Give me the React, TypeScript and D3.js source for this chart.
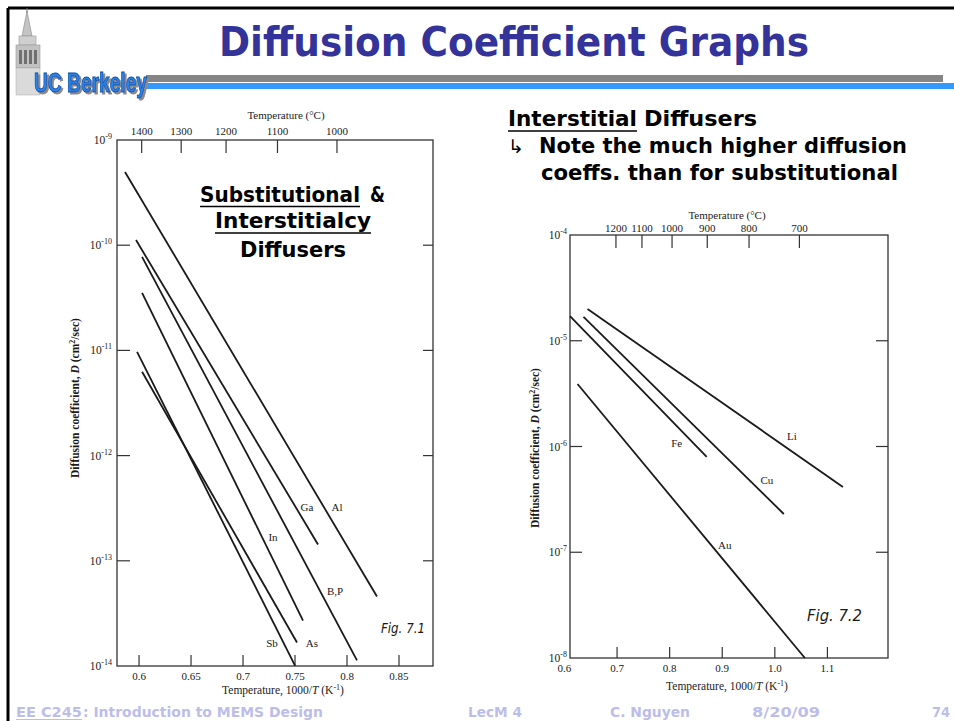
import React from "react";
import * as d3 from "d3";

// ---------- Left chart (Fig 7.1): substitutional & interstitialcy diffusers ----------
const leftSeries = ["Al", "Ga", "B,P", "In", "As", "Sb"];
const leftInvTStart = [0.5865, 0.5971, 0.6029, 0.6029, 0.6029, 0.5981];
const leftInvTEnd = [0.8288, 0.7721, 0.8096, 0.7577, 0.7519, 0.75];
const leftDStart = [4.97e-10, 1.12e-10, 7.74e-11, 3.52e-11, 6.27e-12, 9.7e-12];
const leftDEnd = [4.57e-14, 1.43e-13, 1.13e-14, 2.7e-14, 1.67e-14, 1.01e-14];
const leftLabelInvT = [0.7904, 0.7615, 0.7885, 0.7288, 0.7663, 0.7279];
const leftLabelD = [3.27e-13, 3.27e-13, 5.21e-14, 1.7e-13, 1.67e-14, 1.67e-14];
const leftXTicks = [0.6, 0.65, 0.7, 0.75, 0.8, 0.85];
const leftXTickLabels = ["0.6", "0.65", "0.7", "0.75", "0.8", "0.85"];
const leftTempTicks = [1400, 1300, 1200, 1100, 1000];
const leftDecades = [-9, -10, -11, -12, -13, -14];

// ---------- Right chart (Fig 7.2): interstitial diffusers ----------
const rightSeries = ["Li", "Cu", "Fe", "Au"];
const rightInvTStart = [0.6438, 0.6362, 0.6105, 0.6248];
const rightInvTEnd = [1.1295, 1.0171, 0.8705, 1.0571];
const rightDStart = [2.0e-5, 1.68e-5, 1.71e-5, 3.9e-6];
const rightDEnd = [4.14e-7, 2.3e-7, 7.96e-7, 1.0e-8];
const rightLabelInvT = [1.0324, 0.9848, 0.8133, 0.9048];
const rightLabelD = [1.26e-6, 4.82e-7, 1.08e-6, 1.17e-7];
const rightXTicks = [0.6, 0.7, 0.8, 0.9, 1.0, 1.1];
const rightXTickLabels = ["0.6", "0.7", "0.8", "0.9", "1.0", "1.1"];
const rightTempTicks = [1200, 1100, 1000, 900, 800, 700];
const rightDecades = [-4, -5, -6, -7, -8];

const SERIF = "'Liberation Serif', 'Times New Roman', serif";
const SANS = "'DejaVu Sans', 'Open Sans', sans-serif";
const INK = "#1a1a1a";

function Decade({ x, y, d, anchor }: { x: number; y: number; d: number; anchor: string }) {
  return (
    <text x={x} y={y + 4} textAnchor={anchor} fontFamily={SERIF} fontSize={11.5} fill={INK}>
      10
      <tspan dy={-5} fontSize={8}>{`-${-d}`}</tspan>
    </text>
  );
}

function LeftChart() {
  const x = d3.scaleLinear().domain([0.5788, 0.8827]).range([117, 433]);
  const xTop = d3.scaleLinear().domain([0.5788 - 0.0048, 0.8827 - 0.0048]).range([117, 433]);
  const y = d3.scaleLog().domain([1e-14, 1e-9]).range([666, 140]);
  const line = d3.line<[number, number]>().x((p) => x(p[0])).y((p) => y(p[1]));
  const [x0, x1] = x.range();
  const [yb, yt] = y.range();
  return (
    <g>
      <rect x={x0} y={yt} width={x1 - x0} height={yb - yt} fill="none" stroke="#333" strokeWidth={1.3} />
      {leftDecades.map((d) => {
        const yy = y(Math.pow(10, d));
        const inner = d !== -9 && d !== -14;
        return (
          <g key={d}>
            {inner && <line x1={x0} x2={x0 + 13} y1={yy} y2={yy} stroke="#333" strokeWidth={1.2} />}
            {inner && <line x1={x1} x2={x1 - 10} y1={yy} y2={yy} stroke="#333" strokeWidth={1.2} />}
            <Decade x={x0 - 5} y={yy} d={d} anchor="end" />
          </g>
        );
      })}
      {leftXTicks.map((v, i) => (
        <g key={v}>
          <line x1={x(v)} x2={x(v)} y1={yb} y2={yb - 11} stroke="#333" strokeWidth={1.2} />
          <text x={x(v)} y={yb + 14} textAnchor="middle" fontFamily={SERIF} fontSize={11} fill={INK}>
            {leftXTickLabels[i]}
          </text>
        </g>
      ))}
      {leftTempTicks.map((t) => {
        const xx = xTop(1000 / (t + 273));
        return (
          <g key={t}>
            <line x1={xx} x2={xx} y1={yt} y2={yt + 13} stroke="#333" strokeWidth={1.2} />
            <text x={xx} y={yt - 5} textAnchor="middle" fontFamily={SERIF} fontSize={11} fill={INK}>
              {t}
            </text>
          </g>
        );
      })}
      <text x={286} y={119} textAnchor="middle" fontFamily={SERIF} fontSize={11} fill={INK}>
        Temperature (°C)
      </text>
      {leftSeries.map((s, i) => (
        <path
          key={s}
          d={line([
            [leftInvTStart[i], leftDStart[i]],
            [leftInvTEnd[i], leftDEnd[i]],
          ]) || ""}
          fill="none"
          stroke={INK}
          strokeWidth={1.8}
        />
      ))}
      {leftSeries.map((s, i) => (
        <text
          key={s}
          x={x(leftLabelInvT[i])}
          y={y(leftLabelD[i]) + 4}
          textAnchor="middle"
          fontFamily={SERIF}
          fontSize={11}
          fill={INK}
        >
          {s}
        </text>
      ))}
      <text x={283} y={694} textAnchor="middle" fontFamily={SERIF} fontSize={11.5} fill={INK}>
        Temperature, 1000/<tspan fontStyle="italic">T</tspan> (K<tspan dy={-4} fontSize={8}>-1</tspan>
        <tspan dy={4}>)</tspan>
      </text>
      <text
        transform="translate(79,398) rotate(-90)"
        textAnchor="middle"
        fontFamily={SERIF}
        fontSize={11.5}
        fontWeight="bold"
        fill={INK}
      >
        Diffusion coefficient, <tspan fontStyle="italic">D</tspan> (cm<tspan dy={-4} fontSize={8}>2</tspan>
        <tspan dy={4}>/sec)</tspan>
      </text>
      <text x={381} y={633} fontFamily={SANS} fontStyle="italic" fontSize={14} fill={INK} textLength={44} lengthAdjust="spacingAndGlyphs">
        Fig. 7.1
      </text>
    </g>
  );
}

function RightChart() {
  const x = d3.scaleLinear().domain([0.6105, 1.2152]).range([570, 888]);
  const xTop = d3.scaleLinear().domain([0.6105 - 0.019, 1.2152 - 0.019]).range([570, 888]);
  const y = d3.scaleLog().domain([1e-8, 1e-4]).range([658, 235]);
  const line = d3.line<[number, number]>().x((p) => x(p[0])).y((p) => y(p[1]));
  const [x0, x1] = x.range();
  const [yb, yt] = y.range();
  return (
    <g>
      <rect x={x0} y={yt} width={x1 - x0} height={yb - yt} fill="none" stroke="#333" strokeWidth={1.3} />
      {rightDecades.map((d) => {
        const yy = y(Math.pow(10, d));
        const inner = d !== -4 && d !== -8;
        return (
          <g key={d}>
            {inner && <line x1={x0} x2={x0 + 12} y1={yy} y2={yy} stroke="#333" strokeWidth={1.2} />}
            {inner && <line x1={x1} x2={x1 - 12} y1={yy} y2={yy} stroke="#333" strokeWidth={1.2} />}
            <Decade x={x0 - 3} y={yy} d={d} anchor="end" />
          </g>
        );
      })}
      {rightXTicks.map((v, i) => (
        <g key={v}>
          {x(v) > x0 && <line x1={x(v)} x2={x(v)} y1={yb} y2={yb - 11} stroke="#333" strokeWidth={1.2} />}
          <text x={x(v)} y={yb + 14} textAnchor="middle" fontFamily={SERIF} fontSize={11} fill={INK}>
            {rightXTickLabels[i]}
          </text>
        </g>
      ))}
      {rightTempTicks.map((t) => {
        const xx = xTop(1000 / (t + 273));
        return (
          <g key={t}>
            <line x1={xx} x2={xx} y1={yt} y2={yt + 13} stroke="#333" strokeWidth={1.2} />
            <text x={xx} y={yt - 3} textAnchor="middle" fontFamily={SERIF} fontSize={11} fill={INK}>
              {t}
            </text>
          </g>
        );
      })}
      <text x={727} y={219} textAnchor="middle" fontFamily={SERIF} fontSize={11} fill={INK}>
        Temperature (°C)
      </text>
      {rightSeries.map((s, i) => (
        <path
          key={s}
          d={line([
            [rightInvTStart[i], rightDStart[i]],
            [rightInvTEnd[i], rightDEnd[i]],
          ]) || ""}
          fill="none"
          stroke={INK}
          strokeWidth={1.8}
        />
      ))}
      {rightSeries.map((s, i) => (
        <text
          key={s}
          x={x(rightLabelInvT[i])}
          y={y(rightLabelD[i]) + 4}
          textAnchor="middle"
          fontFamily={SERIF}
          fontSize={11}
          fill={INK}
        >
          {s}
        </text>
      ))}
      <text x={727} y={690} textAnchor="middle" fontFamily={SERIF} fontSize={11.5} fill={INK}>
        Temperature, 1000/<tspan fontStyle="italic">T</tspan> (K<tspan dy={-4} fontSize={8}>-1</tspan>
        <tspan dy={4}>)</tspan>
      </text>
      <text
        transform="translate(539,448) rotate(-90)"
        textAnchor="middle"
        fontFamily={SERIF}
        fontSize={11.5}
        fontWeight="bold"
        fill={INK}
      >
        Diffusion coefficient, <tspan fontStyle="italic">D</tspan> (cm<tspan dy={-4} fontSize={8}>2</tspan>
        <tspan dy={4}>/sec)</tspan>
      </text>
      <text x={807} y={621} fontFamily={SANS} fontStyle="italic" fontSize={16} fill={INK} textLength={55} lengthAdjust="spacingAndGlyphs">
        Fig. 7.2
      </text>
    </g>
  );
}

function Logo() {
  return (
    <g>
      <defs>
        <filter id="ucShadow" x="-10%" y="-20%" width="130%" height="150%">
          <feDropShadow dx={2} dy={2} stdDeviation={0.6} floodColor="#8a8a8a" floodOpacity={1} />
        </filter>
      </defs>
      {/* Campanile tower */}
      <line x1={27} y1={8} x2={27} y2={13} stroke="#777" strokeWidth={1} />
      <polygon points="27,11 22,36 32,36" fill="#c4c4c4" stroke="#888" strokeWidth={0.6} />
      <rect x={19} y={36} width={17} height={9} fill="#cfcfcf" stroke="#999" strokeWidth={0.6} />
      <rect x={16} y={45} width={24} height={23} fill="#c2c2c2" stroke="#999" strokeWidth={0.6} />
      <rect x={19} y={50} width={3} height={14} fill="#707070" />
      <rect x={24} y={50} width={3} height={14} fill="#707070" />
      <rect x={29} y={50} width={3} height={14} fill="#707070" />
      <rect x={34} y={50} width={3} height={14} fill="#707070" />
      <rect x={16} y={68} width={24} height={27} fill="#dadada" stroke="#aaa" strokeWidth={0.5} />
      {/* UC Berkeley wordmark */}
      <text
        x={34}
        y={92}
        fontFamily="'Liberation Sans Narrow', 'Liberation Sans', sans-serif"
        fontWeight="bold"
        fontSize={27}
        fill="#2a84e8"
        stroke="#0b4fa8"
        strokeWidth={0.9}
        textLength={113}
        lengthAdjust="spacingAndGlyphs"
        filter="url(#ucShadow)"
      >
        UC Berkeley
      </text>
    </g>
  );
}

export default function App() {
  const footColor = "#bdbdea";
  return (
    <svg
      width={954}
      height={721}
      viewBox="0 0 954 721"
      style={{ position: "absolute", left: 0, top: 0, background: "#fff" }}
    >
      <rect x={0} y={0} width={954} height={721} fill="#fff" />
      {/* slide frame */}
      <line x1={8} y1={8} x2={954} y2={8} stroke="#000" strokeWidth={3} />
      <line x1={8} y1={8} x2={8} y2={721} stroke="#000" strokeWidth={3} />
      {/* header bars */}
      <rect x={146} y={75} width={797} height={7} fill="#858585" />
      <rect x={146} y={83} width={808} height={6} fill="#3399ff" />
      <Logo />
      <text x={219} y={56} fontFamily={SANS} fontWeight="bold" fontSize={40} fill="#333399" textLength={590} lengthAdjust="spacingAndGlyphs">
        Diffusion Coefficient Graphs
      </text>

      {/* left annotation */}
      <g fontFamily={SANS} fontWeight="bold" fontSize={21} fill="#000">
        <text x={200} y={202} textLength={160} lengthAdjust="spacingAndGlyphs">Substitutional</text>
        <text x={370} y={202} textLength={15} lengthAdjust="spacingAndGlyphs">&amp;</text>
        <line x1={200} x2={360} y1={206.5} y2={206.5} stroke="#000" strokeWidth={1.6} />
        <text x={215} y={228} textLength={156} lengthAdjust="spacingAndGlyphs">Interstitialcy</text>
        <line x1={215} x2={371} y1={233} y2={233} stroke="#000" strokeWidth={1.6} />
        <text x={240} y={257} textLength={106} lengthAdjust="spacingAndGlyphs">Diffusers</text>
      </g>

      {/* right annotation */}
      <g fontFamily={SANS} fontWeight="bold" fontSize={21} fill="#000">
        <text x={508} y={126} textLength={129} lengthAdjust="spacingAndGlyphs">Interstitial</text>
        <line x1={508} x2={637} y1={131} y2={131} stroke="#000" strokeWidth={1.6} />
        <text x={644} y={126} textLength={113} lengthAdjust="spacingAndGlyphs">Diffusers</text>
        <text x={508} y={153} fontSize={19} fontWeight="normal">↳</text>
        <text x={539} y={153} textLength={368} lengthAdjust="spacingAndGlyphs">Note the much higher diffusion</text>
        <text x={541} y={180} textLength={357} lengthAdjust="spacingAndGlyphs">coeffs. than for substitutional</text>
      </g>

      <LeftChart />
      <RightChart />

      {/* footer */}
      <g fontFamily={SANS} fontWeight="bold" fontSize={14} fill={footColor}>
        <text x={16} y={717} textLength={66} lengthAdjust="spacingAndGlyphs">EE C245</text>
        <line x1={16} x2={82} y1={719.5} y2={719.5} stroke={footColor} strokeWidth={1.2} />
        <text x={83} y={717} textLength={240} lengthAdjust="spacingAndGlyphs">: Introduction to MEMS Design</text>
        <text x={468} y={717} textLength={54} lengthAdjust="spacingAndGlyphs">LecM 4</text>
        <text x={610} y={717} textLength={80} lengthAdjust="spacingAndGlyphs">C. Nguyen</text>
        <text x={752} y={717} textLength={68} lengthAdjust="spacingAndGlyphs">8/20/09</text>
        <text x={932} y={717} textLength={18} lengthAdjust="spacingAndGlyphs">74</text>
      </g>
    </svg>
  );
}
